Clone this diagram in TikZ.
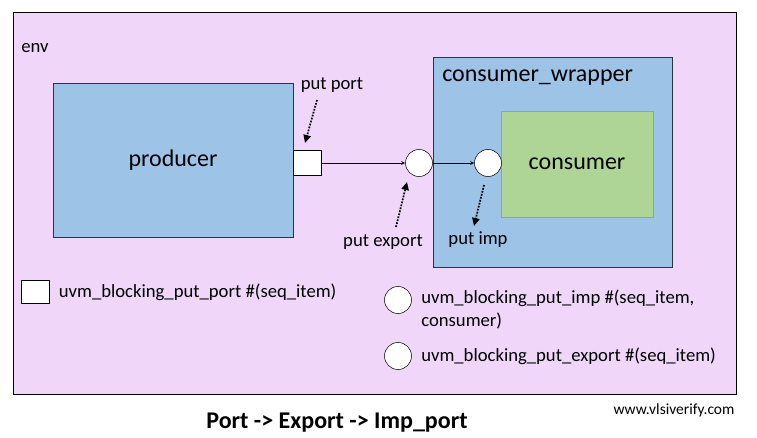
\documentclass[tikz,border=0pt]{standalone}
\usepackage{fontspec}
\setmainfont{Carlito}
\usepackage{tikz}
\usetikzlibrary{positioning,arrows,arrows.meta}
\definecolor{envcol}{RGB}{240,215,250}
\definecolor{bluecol}{RGB}{157,195,230}
\definecolor{greencol}{RGB}{175,213,150}
\definecolor{greenline}{RGB}{130,185,95}
\tikzstyle{plainnode}=[draw=none,fill=none,inner sep=0pt,font=\fontsize{14}{17}\selectfont]
\tikzstyle{bignode}=[draw=none,fill=none,inner sep=0pt,font=\fontsize{18}{22}\selectfont]
\tikzstyle{blockbox}=[draw=black!80, fill=bluecol, rectangle, inner sep=0pt]
\tikzstyle{portbox}=[draw, fill=white, rectangle, minimum width=21pt, minimum height=18.75pt, inner sep=0pt]
\tikzstyle{impcircle}=[draw, fill=white, circle, minimum size=20.25pt, inner sep=0pt]
\tikzstyle{dotarrow}=[-{Triangle[length=6pt,width=5.5pt]}, densely dotted, line width=1.3pt]

\begin{document}
\begin{tikzpicture}[x=0.75pt,y=-0.75pt]
\useasboundingbox (0,0) rectangle (757,438);
\node[draw, fill=envcol, rectangle, minimum width=542.25pt, minimum height=286.5pt] (env) at (374.5,203) {};
\node[plainnode, anchor=west] (envname) at (21,48) {env};
\node[blockbox, minimum width=180pt, minimum height=115.5pt] (producer) at (173,160) {};
\node[bignode] at (producer.center) {producer};
\node[blockbox, minimum width=179.25pt, minimum height=157.5pt] (wrapper) at (552.5,162) {};
\node[bignode, anchor=west] (wrappername) at (442,78) {consumer\_wrapper};
\node[draw=greenline, fill=greencol, rectangle, minimum width=114pt, minimum height=79.5pt] (consumer) at (577,164) {};
\node[bignode] at (consumer.center) {consumer};
\node[portbox] (putport) at (307,163) {};
\node[impcircle] (expcirc) at (419,163) {};
\node[impcircle] (impcirc) at (488,163) {};
\draw (putport) edge[->,>=stealth] (expcirc);
\draw (expcirc) edge[->,>=stealth] (impcirc);
% labels with dotted pointers
\node[plainnode] (portlabel) at (332,85) {put port};
\node[plainnode] (explabel) at (383,242) {put export};
\node[plainnode] (implabel) at (478,240) {put imp};
\coordinate (portfrom) at (317,100);
\coordinate (portto) at (305,143);
\coordinate (expfrom) at (396,227);
\coordinate (expto) at (407,182);
\coordinate (impfrom) at (484,185);
\coordinate (impto) at (474,226);
\draw[dotarrow] (portfrom) -- (portto);
\draw[dotarrow] (expfrom) -- (expto);
\draw[dotarrow] (impfrom) -- (impto);
% legend
\node[portbox, minimum height=17.25pt] (keyport) at (35,292) {};
\node[plainnode, right=7pt of keyport] (keyporttext) {uvm\_blocking\_put\_port \#(seq\_item)};
\node[impcircle] (keyimp) at (398,300) {};
\node[plainnode, anchor=north west, align=left] (keyimptext) at (421,289.5) {uvm\_blocking\_put\_imp \#(seq\_item,\\consumer)};
\node[impcircle] (keyexp) at (398,356) {};
\node[plainnode, anchor=west] (keyexptext) at (421,356) {uvm\_blocking\_put\_export \#(seq\_item)};
% caption
\node[bignode, font=\fontsize{18}{22}\selectfont\bfseries] (title) at (337,423) {Port -> Export -> Imp\_port};
\node[plainnode, font=\fontsize{11.6}{14}\selectfont] (site) at (674,410) {www.vlsiverify.com};
\end{tikzpicture}
\end{document}
